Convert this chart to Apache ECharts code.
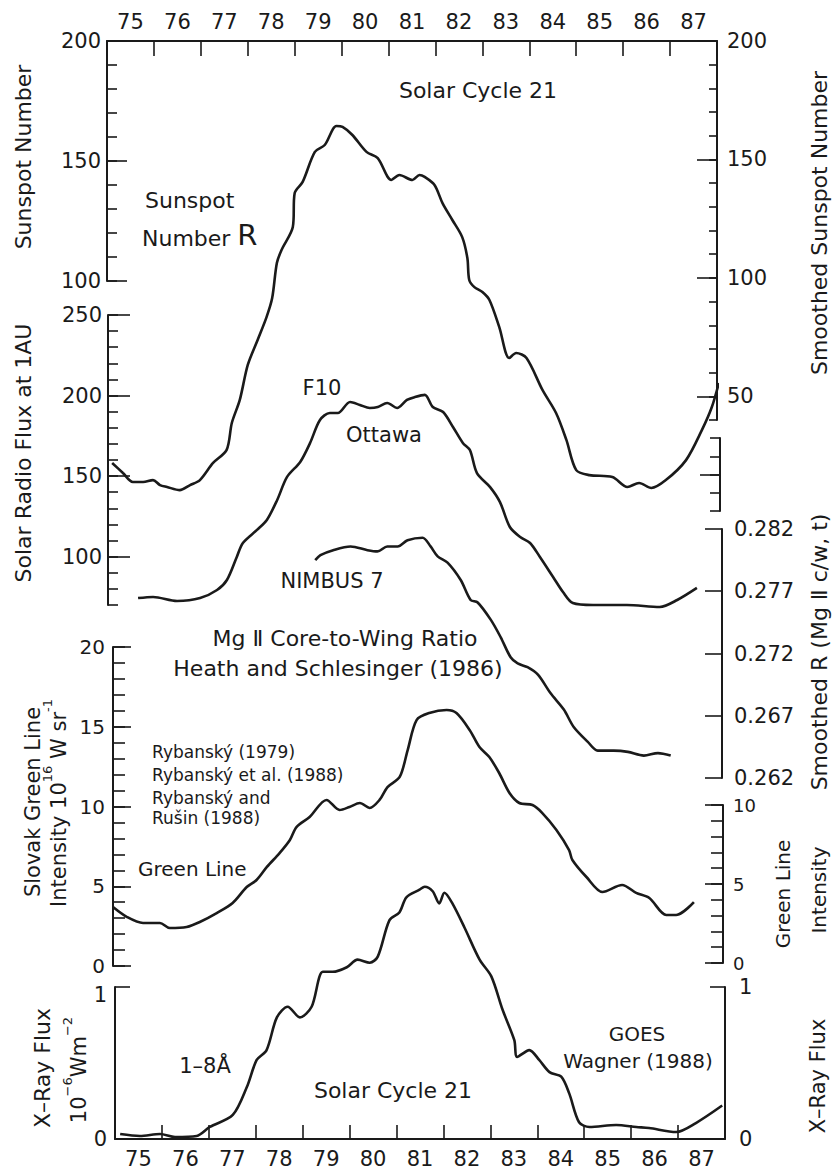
<!DOCTYPE html>
<html>
<head>
<meta charset="utf-8">
<script src="https://cdn.jsdelivr.net/npm/echarts@6/dist/echarts.min.js"></script>
<style>
  html, body { margin: 0; background: #fff; }
  #chart { width: 833px; height: 1171px; }
</style>
</head>
<body>
<div id="chart"></div>
<script>
// year labels on the top and bottom axes
const yearTicks = ['75', '76', '77', '78', '79', '80', '81', '82', '83', '84', '85', '86', '87'];

// smoothed sunspot number R
const sunspotYear = [1975.11, 1975.34, 1975.55, 1975.77, 1975.98, 1976.13, 1976.28, 1976.55, 1976.77, 1976.98,
  1977.26, 1977.55, 1977.66, 1977.83, 1978.0, 1978.21, 1978.40, 1978.52, 1978.62, 1978.72,
  1978.96, 1979.0, 1979.17, 1979.43, 1979.64, 1979.89, 1980.02, 1980.23, 1980.53, 1980.77,
  1981.06, 1981.23, 1981.51, 1981.66, 1981.77, 1981.98, 1982.15, 1982.36, 1982.57, 1982.68,
  1982.72, 1982.83, 1983.0, 1983.15, 1983.36, 1983.57, 1983.72, 1983.94, 1984.28, 1984.57,
  1984.79, 1985.0, 1985.28, 1985.77, 1986.09, 1986.34, 1986.60, 1986.91, 1987.34, 1987.68,
  1987.89, 1988.04];
const sunspotR = [22.7, 18.5, 14.7, 14.7, 15.5, 13.4, 12.6, 11.3, 13.4, 15.5,
  22.7, 28.2, 39.5, 49.2, 63.9, 74.4, 84.0, 92.0, 106.7, 112.2,
  121.8, 136.1, 140.8, 153.4, 156.3, 164.3, 163.9, 160.5, 153.4, 150.8,
  141.6, 143.7, 141.6, 143.7, 142.9, 139.5, 131.9, 124.8, 117.6, 108.8,
  99.6, 96.6, 94.5, 91.2, 79.8, 66.8, 68.9, 66.8, 53.4, 43.7,
  32.4, 19.7, 17.6, 16.8, 12.6, 14.3, 12.2, 15.5, 23.9, 36.6,
  46.2, 56.3];

// F10.7 radio flux, Ottawa
const f10Year = [1975.64, 1975.96, 1976.47, 1976.96, 1977.32, 1977.53, 1977.74, 1977.87, 1978.17, 1978.38,
  1978.60, 1978.81, 1979.09, 1979.30, 1979.51, 1979.72, 1979.89, 1980.15, 1980.36, 1980.57,
  1980.74, 1980.94, 1981.15, 1981.36, 1981.53, 1981.74, 1981.91, 1982.13, 1982.34, 1982.55,
  1982.70, 1982.85, 1983.13, 1983.34, 1983.55, 1983.77, 1983.98, 1984.19, 1984.47, 1984.68,
  1984.89, 1985.32, 1986.04, 1986.74, 1987.11, 1987.53];
const f10Flux = [74.3, 75.0, 72.5, 74.3, 79.3, 85.5, 99.8, 108.5, 116.6, 122.8,
  135.2, 149.5, 158.8, 170.6, 184.8, 189.2, 189.2, 196.0, 194.2, 192.3,
  192.9, 195.4, 192.3, 197.3, 199.1, 200.4, 192.9, 189.8, 180.5, 170.6,
  166.2, 151.9, 143.2, 133.9, 118.4, 112.2, 108.5, 99.8, 87.4, 78.1,
  71.2, 70.0, 70.0, 68.8, 73.1, 80.6];

// Mg II core-to-wing ratio, NIMBUS 7
const mgYear = [1979.36, 1979.47, 1979.74, 1980.11, 1980.47, 1980.68, 1980.89, 1981.11, 1981.32, 1981.64,
  1981.81, 1981.96, 1982.17, 1982.45, 1982.66, 1982.81, 1983.09, 1983.30, 1983.51, 1983.66,
  1983.87, 1984.09, 1984.36, 1984.64, 1984.85, 1985.15, 1985.36, 1985.70, 1986.0, 1986.34,
  1986.64, 1986.91];
const mgRatio = [0.2795, 0.2799, 0.2803, 0.2806, 0.2803, 0.2802, 0.2806, 0.2806, 0.2811, 0.2813,
  0.2806, 0.2798, 0.2793, 0.2779, 0.2763, 0.2761, 0.2747, 0.2733, 0.2717, 0.2712,
  0.2709, 0.2703, 0.2688, 0.2675, 0.2661, 0.2649, 0.2642, 0.2642, 0.2641, 0.2638,
  0.2640, 0.2638];
const mgTicks = [0.262, 0.267, 0.272, 0.277, 0.282];

// Slovak coronal green line intensity
const greenYear = [1975.0, 1975.30, 1975.64, 1976.0, 1976.21, 1976.57, 1976.85, 1977.21, 1977.55, 1977.85,
  1978.06, 1978.28, 1978.55, 1978.77, 1978.91, 1979.19, 1979.55, 1979.83, 1980.04, 1980.26,
  1980.47, 1980.68, 1980.85, 1981.11, 1981.28, 1981.47, 1981.74, 1982.11, 1982.32, 1982.60,
  1982.81, 1983.02, 1983.23, 1983.45, 1983.66, 1983.94, 1984.15, 1984.45, 1984.72, 1984.79,
  1985.09, 1985.43, 1985.85, 1986.15, 1986.43, 1986.79, 1987.0, 1987.38];
const greenIntensity = [3.70, 3.07, 2.70, 2.70, 2.38, 2.45, 2.76, 3.32, 3.95, 4.95,
  5.39, 6.21, 7.08, 7.90, 8.71, 9.34, 10.41, 9.78, 9.97, 10.22,
  9.91, 10.41, 11.22, 11.85, 13.54, 15.42, 15.86, 16.05, 15.86, 14.80,
  13.73, 13.10, 12.10, 10.85, 10.22, 10.09, 9.59, 8.53, 7.27, 6.65,
  5.58, 4.64, 5.08, 4.58, 4.26, 3.20, 3.20, 4.01];

// GOES 1-8 A X-ray flux
const xrayYear = [1975.11, 1975.53, 1975.96, 1976.28, 1976.74, 1977.02, 1977.51, 1977.81, 1978.02, 1978.23,
  1978.45, 1978.68, 1978.94, 1979.19, 1979.43, 1979.64, 1979.94, 1980.17, 1980.43, 1980.60,
  1980.85, 1981.06, 1981.21, 1981.49, 1981.60, 1981.77, 1981.91, 1982.02, 1982.19, 1982.45,
  1982.77, 1983.02, 1983.26, 1983.51, 1983.57, 1983.83, 1984.04, 1984.26, 1984.51, 1984.68,
  1984.89, 1985.11, 1985.68, 1986.11, 1986.38, 1986.96, 1987.38, 1987.94];
const xrayFlux = [0.033, 0.02, 0.033, 0.013, 0.02, 0.079, 0.158, 0.342, 0.52, 0.585,
  0.80, 0.87, 0.80, 0.87, 1.10, 1.10, 1.13, 1.18, 1.16, 1.20,
  1.44, 1.49, 1.59, 1.64, 1.66, 1.63, 1.55, 1.62, 1.55, 1.39,
  1.18, 1.07, 0.85, 0.65, 0.54, 0.585, 0.52, 0.44, 0.41, 0.30,
  0.11, 0.079, 0.092, 0.079, 0.072, 0.046, 0.105, 0.22];

const INK = '#1a1a1a';
const FONT = '"DejaVu Sans", "Liberation Sans", sans-serif';

const chart = echarts.init(document.getElementById('chart'), null, { renderer: 'svg' });

// one grid per panel / axis fragment
const grids = [
  { left: 107, top: 41, width: 610, height: 476 },  // 0 sunspot curve (0-200)
  { left: 107, top: 41, width: 610, height: 240 },  // 1 sunspot left axis 100-200
  { left: 107, top: 41, width: 610, height: 379 },  // 2 smoothed sunspot right axis 40-200
  { left: 110, top: 438, width: 610, height: 73 },  // 3 small right bracket
  { left: 108, top: 315, width: 611, height: 290 }, // 4 F10 70-250
  { left: 110, top: 529, width: 612, height: 249 }, // 5 Mg II
  { left: 113, top: 647, width: 610, height: 319 }, // 6 green line 0-20
  { left: 113, top: 805, width: 610, height: 158 }, // 7 green line right 0-10
  { left: 115, top: 987, width: 610, height: 152 }  // 8 x-ray 0-1
];

function yAx(grid, min, max, side, tick, label) {
  const ax = {
    type: 'value', gridIndex: grid, min: min, max: max, position: side,
    axisLine: { show: tick.line !== false, lineStyle: { color: INK, width: 2 } },
    axisTick: { show: true, inside: true, length: tick.len, lineStyle: { color: INK, width: 1.6 } },
    axisLabel: { show: !!label, color: INK, fontFamily: FONT, fontSize: label ? label.size : 12, margin: label ? label.margin : 8 },
    splitLine: { show: false }
  };
  if (tick.interval) ax.interval = tick.interval;
  if (tick.values) ax.axisTick.customValues = tick.values;
  if (label && label.values) ax.axisLabel.customValues = label.values;
  if (label && label.fmt) ax.axisLabel.formatter = label.fmt;
  if (label && label.rich) ax.axisLabel.rich = label.rich;
  return ax;
}

// the "1" of the x-ray scale sits a little below its tick
const xrayLabel = function (v) { return v === 1 ? '{lo|1}' : '0'; };
const xrayRich = { lo: { padding: [16, 0, 0, 0], fontSize: 21, fontFamily: FONT, color: INK } };

const yAxes = [
  { type: 'value', gridIndex: 0, min: 0, max: 200, show: false },                                  // 0
  yAx(1, 100, 200, 'left', { interval: 10, len: 10 }),                                                // 1
  yAx(1, 100, 200, 'left', { interval: 50, len: 20, line: false }, { size: 21, margin: 6 }),           // 2
  yAx(2, 40, 200, 'right', { interval: 10, len: 8 }),                                                  // 3
  yAx(2, 40, 200, 'right', { len: 20, line: false, values: [50, 100, 150, 200] },
      { size: 21, margin: 10, values: [50, 100, 150, 200] }),                                          // 4
  yAx(3, 130, 170, 'right', { interval: 10, len: 10 }),                                                // 5
  yAx(3, 130, 170, 'right', { len: 20, line: false, values: [150] }),                                  // 6
  yAx(4, 70, 250, 'left', { interval: 10, len: 10 }),                                                  // 7
  yAx(4, 70, 250, 'left', { len: 22, line: false, values: [100, 150, 200, 250] },
      { size: 21, margin: 6, values: [100, 150, 200, 250] }),                                          // 8
  yAx(5, 0.262, 0.282, 'right', { len: 17, values: mgTicks },
      { size: 21, margin: 12, values: mgTicks, fmt: function (v) { return v.toFixed(3); } }),          // 9
  yAx(6, 0, 20, 'left', { interval: 1, len: 12 }),                                                     // 10
  yAx(6, 0, 20, 'left', { interval: 5, len: 18, line: false }, { size: 20, margin: 8 }),               // 11
  yAx(7, 0, 10, 'right', { interval: 1, len: 12 }),                                                    // 12
  yAx(7, 0, 10, 'right', { interval: 5, len: 18, line: false }, { size: 18, margin: 10 }),             // 13
  yAx(8, 0, 1, 'left', { interval: 1, len: 15 }, { size: 21, margin: 8, fmt: xrayLabel, rich: xrayRich }), // 14
  yAx(8, 0, 1, 'right', { interval: 1, len: 15 }, { size: 21, margin: 14 })                            // 15
];

const xAxes = grids.map(function (g, i) {
  return { type: 'value', gridIndex: i, min: 1975, max: 1988, show: false };
});
function yearAxis(grid, pos, tickLen, margin) {
  return {
    type: 'category', gridIndex: grid, position: pos, data: yearTicks, boundaryGap: true,
    axisLine: { show: true, lineStyle: { color: INK, width: 2 } },
    axisTick: { show: true, inside: true, length: tickLen, alignWithLabel: false, interval: 0, lineStyle: { color: INK, width: 1.6 } },
    axisLabel: { interval: 0, color: INK, fontFamily: FONT, fontSize: 21, margin: margin },
    splitLine: { show: false }
  };
}
xAxes.push(yearAxis(0, 'top', 15, 9));    // 9
xAxes.push(yearAxis(8, 'bottom', 14, 9)); // 10

function curve(xi, yi, xs, ys) {
  return {
    type: 'line', xAxisIndex: xi, yAxisIndex: yi,
    data: xs.map(function (x, i) { return [x, ys[i]]; }),
    showSymbol: false, symbol: 'none', smooth: 0.3, clip: false, silent: true,
    lineStyle: { color: INK, width: 2.6 }
  };
}

function txt(text, x, y, size, opt) {
  opt = opt || {};
  const el = {
    type: 'text', x: x, y: y, rotation: opt.rot ? Math.PI / 2 : 0, silent: true,
    style: {
      text: text, x: 0, y: 0, fill: INK,
      font: size + 'px ' + FONT,
      align: opt.align || 'center', textAlign: opt.align || 'center',
      verticalAlign: 'middle', textVerticalAlign: 'middle'
    }
  };
  if (opt.rich) el.style.rich = opt.rich;
  return el;
}
const supRich = function (size) {
  return {
    a: { fontSize: size, fontFamily: FONT, color: INK, lineHeight: size + 8, verticalAlign: 'bottom' },
    s: { fontSize: 13, fontFamily: FONT, color: INK, lineHeight: 14, verticalAlign: 'top' },
    r: { fontSize: 29, fontFamily: FONT, color: INK, lineHeight: 30, verticalAlign: 'bottom' }
  };
};

const labels = [
  txt('Solar Cycle 21', 478, 90, 22),
  txt('Sunspot', 145, 200, 22, { align: 'left' }),
  txt('{a|Number }{r|R}', 142, 234, 22, { align: 'left', rich: supRich(22) }),
  txt('Sunspot Number', 23, 157, 22, { rot: true }),
  txt('Smoothed Sunspot Number', 819, 223, 22, { rot: true }),
  txt('Solar Radio Flux at 1AU', 23, 453, 22, { rot: true }),
  txt('F10', 322, 388, 21),
  txt('Ottawa', 384, 435, 21),
  txt('NIMBUS 7', 332, 581, 21),
  txt('Mg \u2161 Core-to-Wing Ratio', 345, 638, 22),
  txt('Heath and Schlesinger (1986)', 338, 668, 22),
  txt('Smoothed R (Mg \u2161 c/w, t)', 819, 652, 22, { rot: true }),
  txt('Rybanský (1979)', 152, 752, 17, { align: 'left' }),
  txt('Rybanský et al. (1988)', 152, 775, 17, { align: 'left' }),
  txt('Rybanský and', 152, 798, 17, { align: 'left' }),
  txt('Rušin (1988)', 152, 818, 17, { align: 'left' }),
  txt('Green Line', 138, 869, 20, { align: 'left' }),
  txt('Slovak Green Line', 33, 802, 21, { rot: true }),
  txt('{a|Intensity 10}{s|16}{a| W sr}{s|-1}', 55, 803, 21, { rot: true, rich: supRich(21) }),
  txt('Green Line', 783, 894, 20, { rot: true }),
  txt('Intensity', 819, 890, 20, { rot: true }),
  txt('X\u2013Ray Flux', 42, 1068, 22, { rot: true }),
  txt('{a|10}{s|\u22126}{a|Wm}{s|\u22122}', 75, 1070, 21, { rot: true, rich: supRich(21) }),
  txt('X\u2013Ray Flux', 818, 1076, 21, { rot: true }),
  txt('1\u20138\u00c5', 205, 1066, 21),
  txt('Solar Cycle 21', 393, 1090, 22),
  txt('GOES', 637, 1034, 20),
  txt('Wagner (1988)', 638, 1061, 20)
];

chart.setOption({
  backgroundColor: '#fff',
  animation: false,
  grid: grids.map(function (g) { return Object.assign({ outerBoundsMode: 'none', containLabel: false }, g); }),
  xAxis: xAxes,
  yAxis: yAxes,
  series: [
    curve(0, 0, sunspotYear, sunspotR),
    curve(4, 7, f10Year, f10Flux),
    curve(5, 9, mgYear, mgRatio),
    curve(6, 10, greenYear, greenIntensity),
    curve(8, 14, xrayYear, xrayFlux)
  ],
  graphic: labels
});
</script>
</body>
</html>
